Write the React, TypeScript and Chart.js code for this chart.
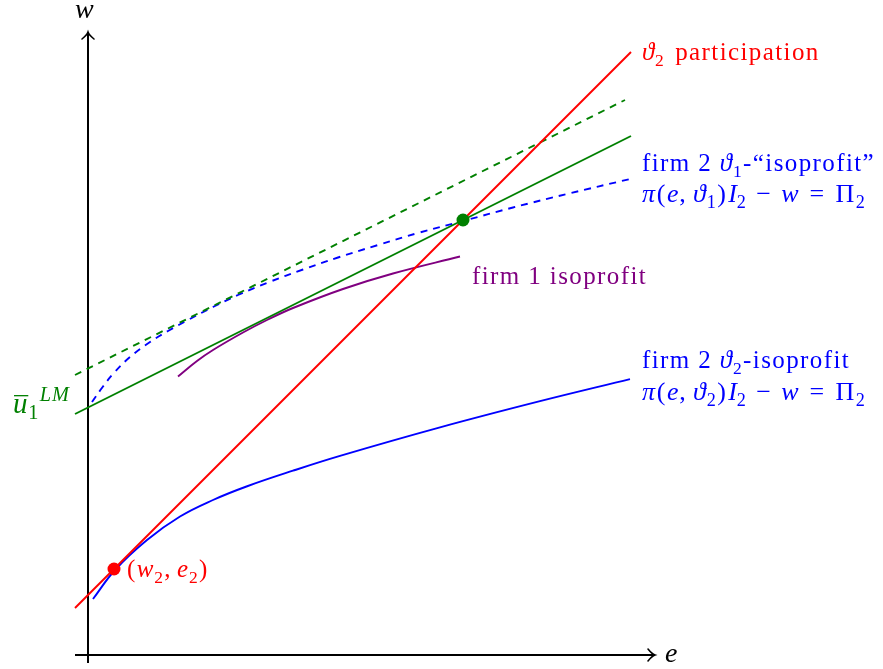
import React, { useEffect, useRef } from 'react';
import { Chart, registerables } from 'chart.js';

Chart.register(...registerables);

// ---- data (in diagram units: e horizontal, w vertical) ----
const xAxisE = [-0.26, 11.34];
const xAxisW = [0, 0];
const yAxisE = [0, 0];
const yAxisW = [-0.16, 12.46];

const participationE = [-0.26, 10.86];
const participationW = [0.94, 12.06];

const tangentE = [-0.26, 10.86];
const tangentW = [4.82, 10.38];

const upperE = [-0.26, 10.74];
const upperW = [5.6, 11.1];

const iso1E = [0.08, 0.3, 0.5, 0.84, 1.24, 1.6, 2.0, 2.5, 3.0, 3.6, 4.3, 5.0, 5.8, 6.6, 7.5, 8.5, 9.6, 10.84];
const iso1W = [5.06, 5.37, 5.62, 5.96, 6.26, 6.48, 6.7, 6.96, 7.2, 7.45, 7.71, 7.95, 8.2, 8.44, 8.68, 8.95, 9.225, 9.52];

const iso2E = [0.1, 0.54, 1.18, 1.84, 2.5, 3.17, 4.1, 5.04, 7.04, 9.04, 10.84];
const iso2W = [1.12, 1.7, 2.3, 2.77, 3.1, 3.37, 3.686, 3.982, 4.552, 5.076, 5.517];

const firm1E = [1.8, 2.18, 2.5, 3.1, 3.6, 4.1, 5.1, 6.1, 7.44];
const firm1W = [5.57, 5.88, 6.1, 6.45, 6.71, 6.94, 7.32, 7.63, 7.97];

const workerPointE = [0.52];
const workerPointW = [1.72];
const eqPointE = [7.5];
const eqPointW = [8.7];

const RED = '#ff0000';
const BLUE = '#0000ff';
const GREEN = '#008000';
const PURPLE = '#800080';
const FONT = '"Liberation Serif", "DejaVu Serif", serif';

type Seg = { t: string; i?: boolean; sub?: boolean; sup?: boolean; bar?: boolean; pad?: number };
type Label = { e: number; w: number; color: string; size: number; segs: Seg[] };

const mathLine = (k: string): Seg[] => [
  { t: 'π', i: true }, { t: '(', pad: 1 }, { t: 'e', i: true }, { t: ',' }, { t: 'ϑ', i: true, pad: 6 }, { t: k, sub: true },
  { t: ')' }, { t: 'I', i: true, pad: 1 }, { t: '2', sub: true, pad: -1 }, { t: '−', pad: 9 }, { t: 'w', i: true, pad: 9 },
  { t: '=', pad: 10 }, { t: 'Π', pad: 10 }, { t: '2', sub: true },
];

const labels: Label[] = [
  { e: -0.26, w: 12.74, color: '#000', size: 28, segs: [{ t: 'w', i: true }] },
  { e: 11.54, w: -0.14, color: '#000', size: 28, segs: [{ t: 'e', i: true }] },
  {
    e: -1.5, w: 4.84, color: GREEN, size: 29,
    segs: [{ t: 'u', i: true, bar: true }, { t: '1', sub: true }, { t: 'LM', i: true, sup: true }],
  },
  {
    e: 0.78, w: 1.56, color: RED, size: 25,
    segs: [{ t: '(' }, { t: 'w', i: true }, { t: '2', sub: true }, { t: ',' }, { t: 'e', i: true, pad: 5 }, { t: '2', sub: true }, { t: ')' }],
  },
  {
    e: 11.08, w: 11.9, color: RED, size: 25,
    segs: [{ t: 'ϑ', i: true }, { t: '2', sub: true }, { t: 'participation', pad: 10 }],
  },
  {
    e: 11.08, w: 9.68, color: BLUE, size: 25,
    segs: [{ t: 'firm 2 ' }, { t: 'ϑ', i: true }, { t: '1', sub: true }, { t: '-“isoprofit”' }],
  },
  { e: 11.08, w: 9.06, color: BLUE, size: 26, segs: mathLine('1') },
  { e: 7.68, w: 7.42, color: PURPLE, size: 25, segs: [{ t: 'firm 1 isoprofit' }] },
  {
    e: 11.08, w: 5.74, color: BLUE, size: 25,
    segs: [{ t: 'firm 2 ' }, { t: 'ϑ', i: true }, { t: '2', sub: true }, { t: '-isoprofit' }],
  },
  { e: 11.08, w: 5.1, color: BLUE, size: 26, segs: mathLine('2') },
];

const zip = (xs: number[], ys: number[]) => xs.map((x, i) => ({ x, y: ys[i] }));

function drawRich(ctx: CanvasRenderingContext2D, x: number, y: number, lab: Label) {
  let cx = x;
  ctx.fillStyle = lab.color;
  ctx.strokeStyle = lab.color;
  ctx.textBaseline = 'alphabetic';
  ctx.textAlign = 'left';
  for (const s of lab.segs) {
    let fs = lab.size;
    let dy = 0;
    if (s.sub) { fs = lab.size * 0.7; dy = lab.size * 0.22; }
    if (s.sup) { fs = lab.size * 0.7; dy = -lab.size * 0.42; }
    cx += s.pad || 0;
    ctx.font = `${s.i ? 'italic ' : ''}${fs}px ${FONT}`;
    (ctx as any).letterSpacing = s.i ? '0.8px' : '1.4px';
    ctx.fillText(s.t, cx, y + dy);
    const w = ctx.measureText(s.t).width;
    if (s.bar) {
      ctx.fillRect(cx + 1, y - fs * 0.62, w - 1, 1.3);
    }
    cx += w;
  }
  (ctx as any).letterSpacing = '0px';
}

function arrow(ctx: CanvasRenderingContext2D, tx: number, ty: number, dir: 'right' | 'up') {
  ctx.save();
  ctx.strokeStyle = '#000';
  ctx.lineWidth = 1.6;
  ctx.lineCap = 'round';
  ctx.beginPath();
  if (dir === 'right') {
    ctx.moveTo(tx - 7, ty - 6);
    ctx.quadraticCurveTo(tx - 3, ty - 1, tx, ty);
    ctx.quadraticCurveTo(tx - 3, ty + 1, tx - 7, ty + 6);
  } else {
    ctx.moveTo(tx - 6, ty + 7);
    ctx.quadraticCurveTo(tx - 1, ty + 3, tx, ty);
    ctx.quadraticCurveTo(tx + 1, ty + 3, tx + 6, ty + 7);
  }
  ctx.stroke();
  ctx.restore();
}

const overlay = {
  id: 'overlay',
  afterDatasetsDraw(chart: any) {
    const ctx: CanvasRenderingContext2D = chart.ctx;
    const xs = chart.scales.x;
    const ys = chart.scales.y;
    ctx.save();
    arrow(ctx, xs.getPixelForValue(xAxisE[1]), ys.getPixelForValue(0), 'right');
    arrow(ctx, xs.getPixelForValue(0), ys.getPixelForValue(yAxisW[1]), 'up');
    for (const lab of labels) {
      drawRich(ctx, xs.getPixelForValue(lab.e), ys.getPixelForValue(lab.w), lab);
    }
    ctx.restore();
  },
};

export default function App() {
  const ref = useRef<HTMLCanvasElement | null>(null);
  useEffect(() => {
    document.body.style.margin = '0';
    if (!ref.current) return;
    const line = (data: any, color: string, extra: any = {}) => ({
      data,
      borderColor: color,
      backgroundColor: color,
      borderWidth: 1.9,
      pointRadius: 0,
      fill: false,
      tension: 0,
      ...extra,
    });
    const curve = { tension: 0.4, cubicInterpolationMode: 'default' };
    const dot = (data: any, color: string) => ({
      data,
      showLine: false,
      pointStyle: 'circle',
      pointRadius: 6.5,
      pointBorderWidth: 0,
      pointBackgroundColor: color,
      pointBorderColor: color,
      borderColor: color,
      backgroundColor: color,
    });
    // Chart.js paints dataset 0 last (on top), so the dots come first here
    const chart = new Chart(ref.current, {
      type: 'line',
      data: {
        datasets: [
          dot(zip(eqPointE, eqPointW), GREEN),
          dot(zip(workerPointE, workerPointW), RED),
          line(zip(participationE, participationW), RED),
          line(zip(tangentE, tangentW), GREEN),
          line(zip(upperE, upperW), GREEN, { borderDash: [7, 6] }),
          line(zip(firm1E, firm1W), PURPLE, curve),
          line(zip(iso1E, iso1W), BLUE, { ...curve, borderDash: [7, 6] }),
          line(zip(iso2E, iso2W), BLUE, curve),
          line(zip(yAxisE, yAxisW), '#000', { borderWidth: 2 }),
          line(zip(xAxisE, xAxisW), '#000', { borderWidth: 2 }),
        ],
      },
      options: {
        responsive: false,
        animation: false,
        devicePixelRatio: 1,
        layout: { padding: 0, autoPadding: false },
        plugins: { legend: { display: false }, tooltip: { enabled: false } },
        events: [],
        scales: {
          x: { type: 'linear', display: false, min: -1.76, max: 15.9 },
          y: { type: 'linear', display: false, min: -0.28, max: 13.1 },
        },
      },
      plugins: [overlay],
    } as any);
    return () => chart.destroy();
  }, []);
  return <canvas ref={ref} width={883} height={669} style={{ display: 'block' }} />;
}
